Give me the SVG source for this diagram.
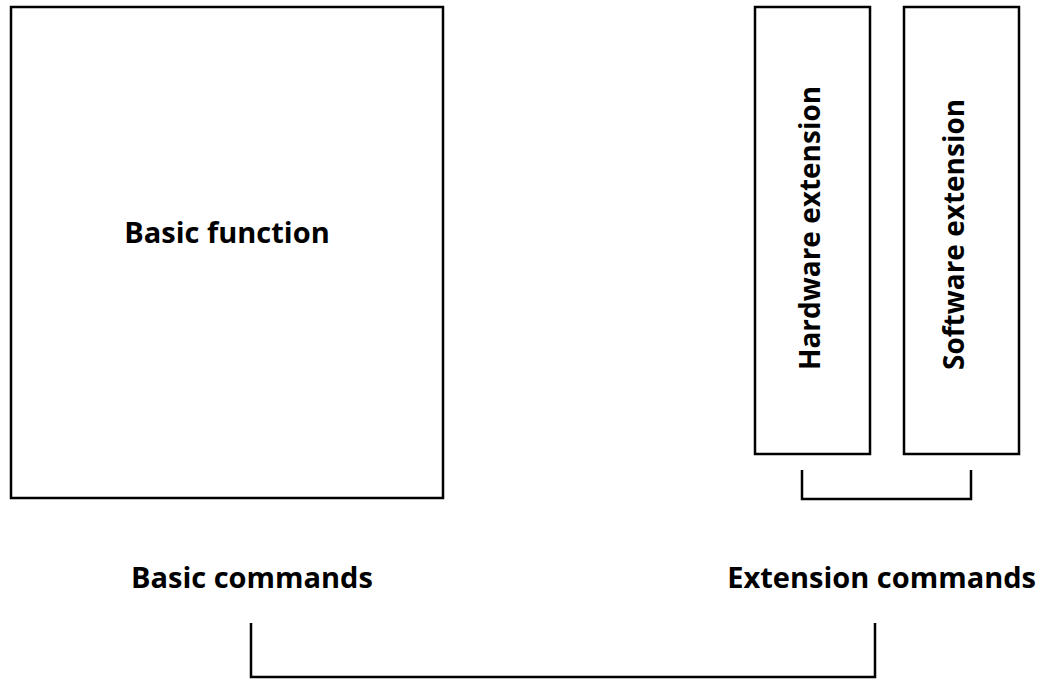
<svg xmlns="http://www.w3.org/2000/svg" width="1050" height="680" viewBox="0 0 1050 680">
<style>
.box{fill:#fff;stroke:#000;stroke-width:2.5}
.con{fill:none;stroke:#000;stroke-width:2.5}
.t{font-family:"Open Sans","Noto Sans","DejaVu Sans",sans-serif;font-weight:bold;font-size:29px;fill:#000}
.v{font-size:28px}
</style>
<rect width="1050" height="680" fill="#fff"/>
<g id="basic-function">
<rect class="box" x="11" y="7" width="432" height="491"/>
<text class="t" x="227" y="243" text-anchor="middle">Basic function</text>
</g>
<g id="hardware-extension">
<rect class="box" x="755" y="7" width="115" height="447"/>
<text class="t v" transform="translate(820,370) rotate(-90)" x="0" y="0">Hardware extension</text>
</g>
<g id="software-extension">
<rect class="box" x="904" y="7" width="115" height="447"/>
<text class="t v" transform="translate(964,370) rotate(-90)" x="0" y="0">Software extension</text>
</g>
<g id="basic-commands">
<text class="t" x="131" y="588">Basic commands</text>
</g>
<g id="extension-commands">
<text class="t" x="1036" y="588" text-anchor="end">Extension commands</text>
</g>
<g id="connectors">
<path class="con" d="M802,470 V499 H971 V470"/>
<path class="con" d="M251,623 V677 H875 V623"/>
</g>
</svg>
